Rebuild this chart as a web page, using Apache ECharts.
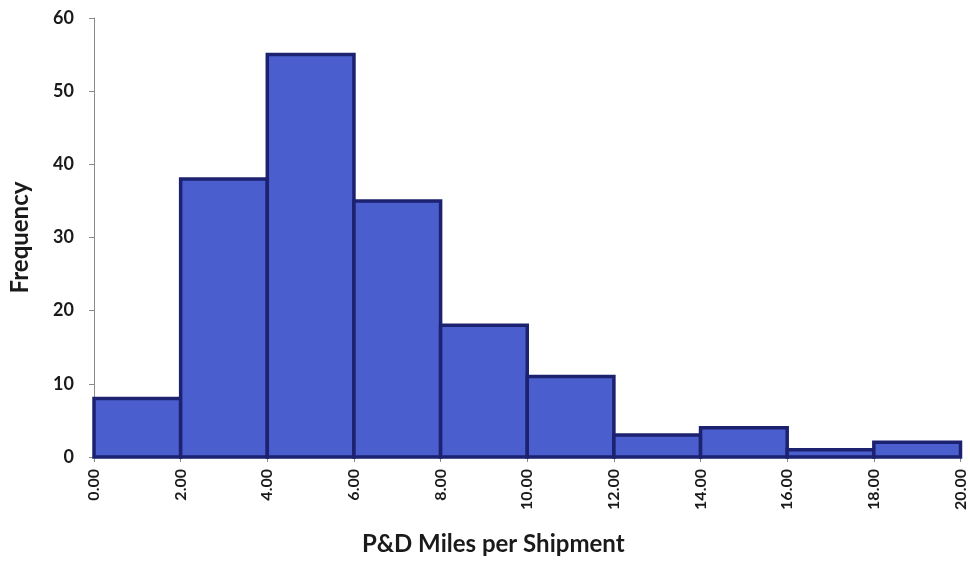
<!DOCTYPE html>
<html>
<head>
<meta charset="utf-8">
<script src="https://cdn.jsdelivr.net/npm/echarts@6/dist/echarts.min.js"></script>
<style>html,body{margin:0;padding:0;background:#fff}#c{width:970px;height:561px}</style>
</head>
<body>
<div id="c"></div>
<script>
const binStarts = [0, 2, 4, 6, 8, 10, 12, 14, 16, 18];
const binEnds = [2, 4, 6, 8, 10, 12, 14, 16, 18, 20];
const frequencies = [8, 38, 55, 35, 18, 11, 3, 4, 1, 2];
const yTicks = [0, 10, 20, 30, 40, 50, 60];

const data = binStarts.map((s, i) => [s, binEnds[i], frequencies[i]]);
const font = 'Lato, "Open Sans", sans-serif';

const chart = echarts.init(document.getElementById('c'));
chart.setOption({
  animation: false,
  grid: { left: 92.5, right: 9.5, top: 18, bottom: 102 },
  xAxis: {
    type: 'value', min: 0, max: 20, interval: 2,
    name: 'P&D Miles per Shipment', nameLocation: 'middle', nameGap: 75,
    nameTextStyle: { fontFamily: font, fontWeight: 'bold', fontSize: 24, color: '#1a1a1a', padding: [0, 68, 0, 0] },
    axisLine: { show: true, lineStyle: { color: '#8a8a8a', width: 1 } },
    axisTick: { show: true, length: 5, lineStyle: { color: '#8a8a8a' } },
    splitLine: { show: false },
    axisLabel: { rotate: 90, margin: 12, fontFamily: font, fontWeight: 'bold', fontSize: 16, color: '#1a1a1a',
      formatter: v => v.toFixed(2) }
  },
  yAxis: {
    type: 'value', min: yTicks[0], max: yTicks[yTicks.length - 1], interval: 10,
    name: 'Frequency', nameLocation: 'middle', nameGap: 62, nameRotate: 90,
    nameTextStyle: { fontFamily: font, fontWeight: 'bold', fontSize: 24, color: '#1a1a1a' },
    axisLine: { show: true, lineStyle: { color: '#8a8a8a', width: 1 } },
    axisTick: { show: true, length: 5, lineStyle: { color: '#8a8a8a' } },
    splitLine: { show: false },
    axisLabel: { margin: 20, fontFamily: font, fontWeight: 'bold', fontSize: 18, color: '#1a1a1a' }
  },
  series: [{
    type: 'custom',
    data: data,
    encode: { x: [0, 1], y: 2 },
    renderItem: function (params, api) {
      const p0 = api.coord([api.value(0), api.value(2)]);
      const p1 = api.coord([api.value(1), 0]);
      return {
        type: 'rect',
        shape: { x: p0[0], y: p0[1], width: p1[0] - p0[0], height: p1[1] - p0[1] },
        style: { fill: '#4a5fcd', stroke: '#1c2270', lineWidth: 3.5 }
      };
    }
  }]
});
</script>
</body>
</html>
